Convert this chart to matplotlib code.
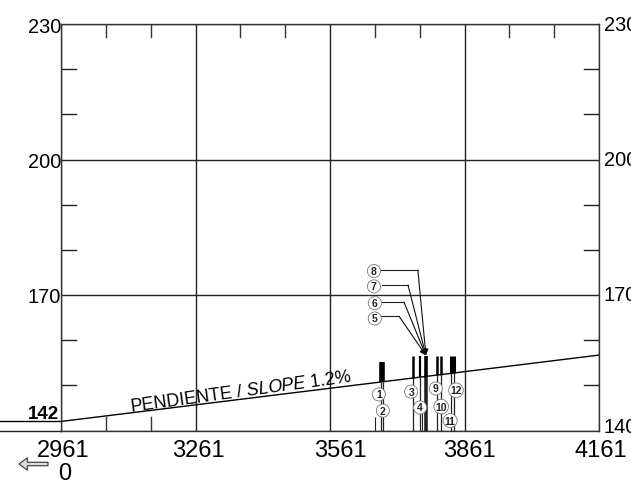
"""
Well depth chart along the sloped surface.
"""

import matplotlib
matplotlib.use('Agg')
import matplotlib.pyplot as plt
import numpy as np

plt.rcParams['font.family'] = ['Liberation Sans', 'DejaVu Sans']
plt.rcParams['mathtext.fontset'] = 'custom'
plt.rcParams['mathtext.it'] = 'Liberation Sans:italic'
plt.rcParams['mathtext.rm'] = 'Liberation Sans'

X_TICKS = [2961, 3261, 3561, 3861, 4161]
X_LABEL_SHIFT = [2.5, 3, 10, 5, 2]
X_MINOR = [3061, 3161, 3361, 3461, 3661, 3761, 3961, 4061]
X_BOTTOM_MINOR = [3061, 3161]
Y_TICKS = [140, 170, 200, 230]
Y_LEFT_LABELS = ["", "170", "200", "230"]
Y_RIGHT_LABELS = ["140", "170", "200", "230"]
Y_MINOR = [150, 160, 180, 190, 210, 220]

# ground surface
SURFACE_X = [2961, 4161]
SURFACE_Y = [142, 156.7]
PLATFORM_X = [2825, 2961]
PLATFORM_Y = [142, 142]

# well lines: position, top elevation, width below and above the surface
WELL_X = [3661, 3675, 3680, 3746, 3762, 3766, 3775, 3800, 3809, 3831, 3838]
WELL_TOP = [143, 155.2, 155.2, 156.4, 156.4, 145, 156.4, 156.4, 156.4, 156.4, 156.4]
WELL_LW_LOW = [0.8, 0.9, 0.9, 0.9, 0.9, 0.8, 2.6, 0.9, 0.9, 0.9, 0.9]
WELL_LW_HIGH = [0.8, 2.6, 2.6, 1.8, 1.6, 0.8, 2.6, 1.8, 1.8, 2.2, 2.2]

LABEL_TEXT = ["1", "2", "3", "4", "5", "6", "7", "8", "9", "10", "11", "12"]
LABEL_X = [3670, 3679, 3742, 3762, 3661, 3661, 3659, 3659, 3797, 3809, 3829, 3842]
LABEL_Y = [148, 144.4, 148.6, 145.1, 164.8, 168.2, 171.9, 175.3, 149.3, 145.3, 142.2, 148.9]

# leaders for wells 5-8: start, elbow, and one shared tip
LEADER_START_X = [3675, 3677, 3677, 3675]
LEADER_ELBOW_X = [3715, 3726, 3735, 3757]
LEADER_Y = [165.3, 168.4, 172.2, 175.5]
LEADER_TIP = (3775, 156.6)


def surface_at(x):
    return np.interp(x, SURFACE_X, SURFACE_Y)


def plot_wells():
    fig = plt.figure(figsize=(6.31, 4.85), dpi=100)
    ax = fig.add_axes([61 / 631, 1 - 431.5 / 485, 538 / 631, 406.5 / 485])
    ax.set_xlim(2961, 4161)
    ax.set_ylim(140, 230)

    ax.set_xticks(X_TICKS)
    ax.set_xticklabels([])
    ax.set_yticks(Y_TICKS)
    ax.set_yticklabels(Y_LEFT_LABELS, fontsize=14.4)
    ax.tick_params(axis='x', length=0)
    ax.tick_params(axis='y', length=0, pad=0)
    ax.grid(True, color='#222222', linewidth=1.0)
    ax.set_axisbelow(True)
    for spine in ax.spines.values():
        spine.set_color('#333333')
        spine.set_linewidth(1.0)

    # inward ticks, drawn as short segments
    xaxis_tr = ax.get_xaxis_transform()
    yaxis_tr = ax.get_yaxis_transform()
    for x in X_MINOR:
        ax.plot([x, x], [1, 1 - 13 / 406.5], transform=xaxis_tr, color='#333333', lw=1.0)
    for x in X_BOTTOM_MINOR:
        ax.plot([x, x], [0, 14 / 406.5], transform=xaxis_tr, color='#333333', lw=1.0)
    for y in Y_MINOR:
        ax.plot([0, 15 / 538], [y, y], transform=yaxis_tr, color='#222222', lw=1.0)
        ax.plot([1, 1 - 15 / 538], [y, y], transform=yaxis_tr, color='#222222', lw=1.0)

    # x labels sit off-centre from their gridlines
    for x, dx in zip(X_TICKS, X_LABEL_SHIFT):
        ax.annotate(str(x), xy=(x, 0), xycoords=xaxis_tr, xytext=(dx * 0.72, -20 * 0.72),
                    textcoords='offset points', fontsize=17, ha='center', va='center', annotation_clip=False)

    # right side labels run off the figure
    for y, label in zip(Y_TICKS, Y_RIGHT_LABELS):
        dy = 3 if y == 140 else 0
        ax.annotate(label, xy=(1, y), xycoords=yaxis_tr, xytext=(3.5, dy), textcoords='offset points',
                    fontsize=14.4, va='center', ha='left', annotation_clip=False)

    ax.plot(SURFACE_X, SURFACE_Y, color='black', lw=1.0, zorder=4)
    ax.plot(PLATFORM_X, PLATFORM_Y, color='black', lw=1.0, clip_on=False, zorder=4)
    ax.plot(PLATFORM_X, [140, 140], color='#222222', lw=1.0, clip_on=False)

    for x, top, low, high in zip(WELL_X, WELL_TOP, WELL_LW_LOW, WELL_LW_HIGH):
        ground = surface_at(x)
        ax.plot([x, x], [140, min(top, ground)], color='#222222', lw=low, solid_capstyle='butt', zorder=3)
        if top > ground:
            ax.plot([x, x], [ground, top], color='black', lw=high, solid_capstyle='butt', zorder=3)

    for x0, xe, y in zip(LEADER_START_X, LEADER_ELBOW_X, LEADER_Y):
        ax.plot([x0, xe], [y, y], color='#222222', lw=0.8, zorder=5)
        ax.annotate("", xy=LEADER_TIP, xytext=(xe, y),
                    arrowprops=dict(arrowstyle='-|>', color='#111111', lw=0.8, mutation_scale=9,
                                    shrinkA=0, shrinkB=0), zorder=5)

    for text, x, y in zip(LABEL_TEXT, LABEL_X, LABEL_Y):
        ax.text(x, y, text, fontsize=7.5, fontweight='bold', ha='center', va='center', color='#222222',
                bbox=dict(boxstyle='circle,pad=0.15', fc='white', ec='#777777', lw=0.6), zorder=6)

    ax.text(3363, 148.6, r"PENDIENTE / $\mathit{SLOPE}$ 1.2%", fontsize=12.9, rotation=7.8,
            ha='center', va='center', rotation_mode='anchor', zorder=5)
    ax.text(2957, 143.8, "142", fontsize=13.5, fontweight='bold', ha='right', va='center', clip_on=False)

    # zero marker under the first tick
    fig.text(65 / 631, 1 - 474 / 485, "0", fontsize=17, ha='center', va='center')
    ax.annotate("", xy=(19 / 631, 1 - 465 / 485), xytext=(48 / 631, 1 - 465 / 485),
                xycoords='figure fraction', textcoords='figure fraction',
                arrowprops=dict(arrowstyle='simple,head_length=0.6,head_width=0.9,tail_width=0.25',
                                fc='#dddddd', ec='#333333', lw=0.8, mutation_scale=10, shrinkA=0, shrinkB=0))

    plt.savefig("out.png", dpi=100)
    plt.close()


if __name__ == "__main__":
    plot_wells()
